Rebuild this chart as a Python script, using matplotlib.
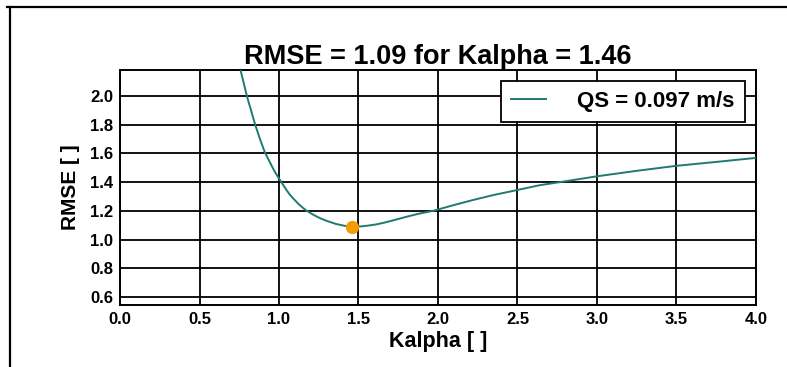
import matplotlib
matplotlib.use("Agg")
import matplotlib.pyplot as plt
from matplotlib.lines import Line2D

plt.rcParams["font.family"] = ["Liberation Sans", "DejaVu Sans"]
plt.rcParams["font.weight"] = "bold"

# RMSE curve
kalpha = [0.74, 0.76, 0.78, 0.80, 0.82, 0.85, 0.88, 0.91, 0.93, 0.96, 0.98,
          1.00, 1.02, 1.05, 1.07, 1.09, 1.13, 1.17, 1.22, 1.26, 1.30, 1.36,
          1.42, 1.46, 1.52, 1.56, 1.61, 1.66, 1.73, 1.80, 1.88, 1.97, 2.10, 2.22,
          2.35, 2.50, 2.64, 2.77, 3.00, 3.25, 3.50, 3.75, 4.00]
rmse = [2.26, 2.17, 2.08, 1.99, 1.915, 1.80, 1.70, 1.61, 1.565, 1.50, 1.46,
        1.425, 1.39, 1.34, 1.31, 1.285, 1.24, 1.203, 1.17, 1.148, 1.13, 1.108,
        1.094, 1.090, 1.092, 1.097, 1.105, 1.117, 1.137, 1.158, 1.18, 1.20, 1.24,
        1.275, 1.31, 1.345, 1.378, 1.40, 1.44, 1.478, 1.513, 1.54, 1.568]
best_k = 1.46
best_rmse = 1.09
qs = 0.097

TEAL = "#1f7a70"
ORANGE = "#f59b00"

fig = plt.figure(figsize=(7.87, 3.67), dpi=100)
fig.patch.set_facecolor("white")
ax = fig.add_axes([0.1525, 0.169, 0.808, 0.6405])

ax.plot(kalpha, rmse, color=TEAL, lw=1.4, label=f"QS = {qs} m/s", zorder=3)
ax.plot([best_k], [best_rmse], "o", color=ORANGE, ms=8.5, zorder=4)

ax.set_xlim(0, 4.0)
ax.set_ylim(0.5 * best_rmse, 2 * best_rmse)
ax.set_xticks([0.0, 0.5, 1.0, 1.5, 2.0, 2.5, 3.0, 3.5, 4.0])
ax.set_yticks([0.6, 0.8, 1.0, 1.2, 1.4, 1.6, 1.8, 2.0])
ax.grid(True, color="black", lw=1.3)
ax.set_axisbelow(True)
ax.tick_params(length=0, pad=5, labelsize=12)
for lab in ax.get_xticklabels() + ax.get_yticklabels():
    lab.set_fontweight("bold")
for s in ax.spines.values():
    s.set_color("black")
    s.set_linewidth(1.4)

ax.set_title(f"RMSE = {best_rmse} for Kalpha = {best_k}", fontsize=19.5,
             fontweight="bold", pad=3)
ax.set_xlabel("Kalpha [ ]", fontsize=15.5, fontweight="bold", labelpad=3)
ax.set_ylabel("RMSE [ ]", fontsize=15, fontweight="bold", labelpad=7)

leg = ax.legend(loc="upper right", frameon=True, fancybox=False,
                borderpad=0.45, handlelength=1.6, handletextpad=1.4,
                borderaxespad=0.5, prop={"weight": "bold", "size": 16})
leg.get_frame().set_edgecolor("black")
leg.get_frame().set_linewidth(1.3)
leg.get_frame().set_alpha(1)

# screenshot frame on the top and left
fig.add_artist(Line2D([7 / 787, 1.0], [1 - 7 / 367, 1 - 7 / 367],
                      color="black", lw=1.6, transform=fig.transFigure))
fig.add_artist(Line2D([10 / 787, 10 / 787], [0, 1 - 7 / 367],
                      color="black", lw=1.6, transform=fig.transFigure))

fig.savefig("out.png", dpi=100)
